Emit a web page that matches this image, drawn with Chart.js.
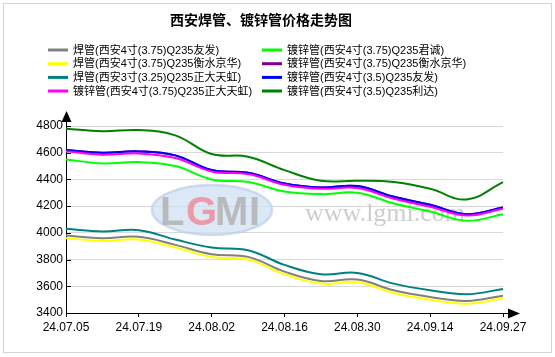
<!DOCTYPE html>
<html>
<head>
<meta charset="utf-8">
<script src="https://cdn.jsdelivr.net/npm/chart.js@4.4.1/dist/chart.umd.min.js"></script>
<style>
html,body{margin:0;padding:0;background:#fff;}
#wrap{width:555px;height:357px;position:relative;}
</style>
</head>
<body>
<div id="wrap"><canvas id="c" width="555" height="357"></canvas></div>
<script>
// ---- data ----
const title = '西安焊管、镀锌管价格走势图';
const categories = ['24.07.05','24.07.12','24.07.19','24.07.26','24.08.02','24.08.09','24.08.16','24.08.23','24.08.30','24.09.06','24.09.14','24.09.20','24.09.27'];
const yTicks = [3400,3600,3800,4000,4200,4400,4600,4800];

const seriesNames = [
  '焊管(西安4寸(3.75)Q235友发)',
  '焊管(西安4寸(3.75)Q235衡水京华)',
  '焊管(西安3寸(3.25)Q235正大天虹)',
  '镀锌管(西安4寸(3.75)Q235正大天虹)',
  '镀锌管(西安4寸(3.75)Q235君诚)',
  '镀锌管(西安4寸(3.75)Q235衡水京华)',
  '镀锌管(西安4寸(3.5)Q235友发)',
  '镀锌管(西安4寸(3.5)Q235利达)'
];
const hanYoufa      = [3980,3960,3970,3910,3840,3820,3710,3640,3650,3570,3520,3490,3530];
const hanHengshui   = [3960,3940,3950,3890,3820,3800,3690,3620,3630,3550,3500,3470,3510];
const hanZhengda    = [4030,4010,4020,3950,3890,3870,3760,3690,3700,3620,3570,3540,3580];
const duZhengda     = [4610,4585,4595,4560,4460,4440,4360,4330,4335,4255,4195,4130,4180];
const duJuncheng    = [4550,4520,4530,4500,4400,4380,4310,4290,4300,4220,4160,4090,4140];
const duHengshui    = [4620,4600,4610,4580,4470,4450,4370,4340,4350,4270,4210,4140,4190];
const duYoufa       = [4620,4600,4610,4580,4470,4450,4370,4340,4350,4270,4210,4140,4190];
const duLida        = [4780,4760,4770,4730,4590,4570,4470,4390,4390,4380,4330,4250,4380];

const seriesValues = [hanYoufa, hanHengshui, hanZhengda, duZhengda, duJuncheng, duHengshui, duYoufa, duLida];
const seriesColors = ['#808080','#ffff00','#008080','#ff00ff','#00ff00','#800080','#0000ff','#008000'];
const seriesOrder  = [0,0,0,0,0,1,0,0];

const FONT = '"Liberation Sans", "Noto Sans CJK SC", sans-serif';

const datasets = seriesNames.map((n,i)=>({
  label:n, data:seriesValues[i], borderColor:seriesColors[i], backgroundColor:seriesColors[i],
  borderWidth:2, pointRadius:0, tension:0.4, fill:false, order:seriesOrder[i]
}));

const bgPlugin = {
  id:'bg',
  beforeDraw(chart){
    const c = chart.ctx;
    c.save();
    c.fillStyle='#fff'; c.fillRect(0,0,chart.width,chart.height);
    c.strokeStyle='#d4d4d4'; c.lineWidth=1;
    c.strokeRect(3.5,3.5,548,349);
    c.restore();
  },
  beforeDatasetsDraw(chart){
    const c = chart.ctx;
    c.save();
    // logo watermark
    c.beginPath();
    c.ellipse(212,210,60,25,0,0,Math.PI*2);
    c.fillStyle='rgba(205,222,242,0.7)';
    c.fill();
    c.lineWidth=2.5; c.strokeStyle='rgba(178,200,230,0.6)'; c.stroke();
    c.font='bold 40px "Liberation Sans", sans-serif';
    c.textBaseline='alphabetic';
    const letters=[['L','rgba(175,175,175,0.8)',160],['G','rgba(240,130,140,0.75)',186],['M','rgba(175,175,175,0.8)',215],['I','rgba(175,175,175,0.8)',249]];
    letters.forEach(l=>{c.fillStyle=l[1]; c.fillText(l[0],l[2],225);});
    // site watermark
    c.font='26px "Liberation Serif", serif';
    c.fillStyle='rgba(200,200,200,0.9)';
    c.fillText('www.lgmi.com',305,221);
    c.restore();
  },
  afterDraw(chart){
    const c = chart.ctx;
    const a = chart.chartArea;
    c.save();
    // title
    c.font='bold 14px "Noto Sans CJK SC", sans-serif';
    c.fillStyle='#000'; c.textAlign='center'; c.textBaseline='middle';
    c.fillText(title,261,20);
    // legend
    c.font='11px '+FONT;
    c.textAlign='left';
    const rowY=[50,63.7,77.4,91];
    chart.data.datasets.forEach((ds,i)=>{
      const col = i<4?0:1;
      const row = i%4;
      const x0 = col===0?48:262;
      const y = rowY[row];
      c.strokeStyle=ds.borderColor; c.lineWidth=3;
      c.beginPath(); c.moveTo(x0,y); c.lineTo(x0+20,y); c.stroke();
      c.fillStyle='#000';
      c.fillText(ds.label,x0+25,y+0.5);
    });
    // axis extensions and arrows
    const x0=a.left, yb=a.bottom;
    c.strokeStyle='#000'; c.fillStyle='#000'; c.lineWidth=1;
    c.beginPath(); c.moveTo(x0+0.5,a.top); c.lineTo(x0+0.5,121); c.stroke();
    c.beginPath(); c.moveTo(x0+0.5,111); c.lineTo(x0+5.5,122); c.lineTo(x0-4.5,122); c.closePath(); c.fill();
    c.beginPath(); c.moveTo(a.right,yb+0.5); c.lineTo(509,yb+0.5); c.stroke();
    c.beginPath(); c.moveTo(520,yb+0.5); c.lineTo(508,yb-4.5); c.lineTo(508,yb+5.5); c.closePath(); c.fill();
    // inner y ticks
    const ys = chart.scales.y;
    yTicks.forEach(v=>{
      const py = Math.round(ys.getPixelForValue(v))+0.5;
      c.beginPath(); c.moveTo(x0,py); c.lineTo(x0+5,py); c.stroke();
    });
    c.restore();
  }
};

new Chart(document.getElementById('c'),{
  type:'line',
  data:{labels:categories, datasets},
  options:{
    responsive:false, animation:false, devicePixelRatio:1,
    layout:{padding:{top:126,right:52,left:0,bottom:0}},
    plugins:{legend:{display:false}, title:{display:false}, tooltip:{enabled:false}},
    scales:{
      x:{
        offset:false,
        grid:{drawOnChartArea:false, tickLength:4, color:(ctx)=> (ctx.index%2===0?'#000':'rgba(0,0,0,0)')},
        border:{color:'#000', width:1},
        ticks:{autoSkip:false, maxRotation:0, minRotation:0, padding:3, color:'#000',
          font:{size:12, family:FONT},
          callback:(v,i)=> (i%2===0?categories[i]:'')},
        afterFit:(s)=>{s.height=44;}
      },
      y:{
        min:3400, max:4800,
        afterBuildTicks:(s)=>{s.ticks = yTicks.map(v=>({value:v}));},
        grid:{color:'#d9d9d9', drawTicks:false},
        border:{color:'#000', width:1},
        ticks:{padding:3, color:'#000', font:{size:12, family:FONT}, callback:(v)=> String(v)},
        afterFit:(s)=>{s.width=66;}
      }
    }
  },
  plugins:[bgPlugin]
});
</script>
</body>
</html>
